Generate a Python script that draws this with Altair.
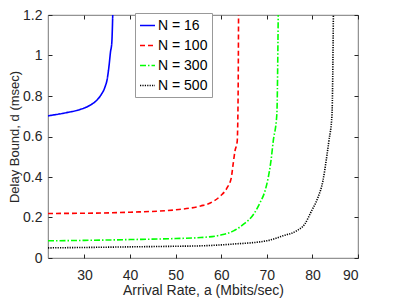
import altair as alt
import pandas as pd

# N = 16
a16 = [22, 26.1, 29.0, 31.2, 32.7, 33.7, 34.5, 35.0, 35.4, 35.7, 36.0, 36.2]
d16 = [0.702, 0.718, 0.733, 0.754, 0.779, 0.808, 0.844, 0.885, 0.951, 1.016, 1.065, 1.2]
# N = 100
a100 = [22, 30, 40, 50, 55.5, 57.7, 59.8, 61.3, 62.2, 62.6, 63.0, 63.5, 63.7, 63.8]
d100 = [0.22, 0.221, 0.226, 0.238, 0.257, 0.273, 0.306, 0.347, 0.396, 0.462, 0.527, 0.576, 0.8, 1.2]
# N = 300
a300 = [22, 30, 40, 50, 55.5, 59.8, 62.7, 64.9, 67.1, 68.5, 69.6, 70.3, 70.9, 71.4, 72.2, 72.5]
d300 = [0.085, 0.087, 0.091, 0.096, 0.101, 0.113, 0.134, 0.167, 0.216, 0.273, 0.331, 0.396, 0.478, 0.576, 0.71, 1.2]
# N = 500
a500 = [22, 30, 40, 50, 55.5, 62.7, 70.0, 73.6, 76.5, 78.3, 79.8, 81.2, 82.3, 83.0, 83.6, 84.3, 84.6]
d500 = [0.05, 0.052, 0.055, 0.058, 0.060, 0.069, 0.085, 0.110, 0.134, 0.167, 0.232, 0.298, 0.380, 0.478, 0.576, 0.71, 1.2]

series = ["N = 16", "N = 100", "N = 300", "N = 500"]
colors = ["#0000ff", "#ff0000", "#00ff00", "#000000"]
dashes = [[1, 0], [5, 3], [6, 2, 1.5, 2], [1.2, 1.2]]
x_ticks = [30, 40, 50, 60, 70, 80, 90]
y_ticks = [0, 0.2, 0.4, 0.6, 0.8, 1.0, 1.2]

rows = []
for name, xs, ys in zip(series, [a16, a100, a300, a500], [d16, d100, d300, d500]):
    for x, y in zip(xs, ys):
        rows.append({"a": x, "d": y, "N": name})
df = pd.DataFrame(rows)

FONT = "Liberation Sans"
TXT = "#262626"

xscale = alt.Scale(domain=[22, 90], nice=False, zero=False)
yscale = alt.Scale(domain=[0, 1.2], nice=False)

lines = alt.Chart(df).mark_line(strokeWidth=1.6, clip=True, interpolate="monotone").encode(
    x=alt.X("a:Q", scale=xscale,
            axis=alt.Axis(values=x_ticks, orient="bottom", offset=-4, tickSize=4,
                          domain=False, grid=False, labelPadding=10,
                          title="Arrival Rate, a (Mbits/sec)", titlePadding=1)),
    y=alt.Y("d:Q", scale=yscale,
            axis=alt.Axis(values=y_ticks, orient="left", offset=-4, tickSize=4,
                          domain=False, grid=False, labelPadding=6, format="~g",
                          title="Delay Bound, d (msec)", titlePadding=1,
                          titleFontSize=13)),
    color=alt.Color("N:N", sort=series,
                    scale=alt.Scale(domain=series, range=colors),
                    legend=alt.Legend(title=None, orient="none", legendX=87, legendY=-2,
                                      symbolType="stroke", symbolSize=225,
                                      symbolStrokeWidth=1.6, labelFontSize=14,
                                      labelFont=FONT, labelColor="#000",
                                      padding=4, rowPadding=4, labelOffset=2,
                                      strokeColor="#999", fillColor="white")),
    strokeDash=alt.StrokeDash("N:N", sort=series,
                              scale=alt.Scale(domain=series, range=dashes),
                              legend=alt.Legend(title=None)),
)

frame = alt.Chart(df).mark_line(opacity=0).encode(
    x=alt.X("a:Q", scale=xscale,
            axis=alt.Axis(values=x_ticks, orient="top", offset=-4, tickSize=4,
                          domain=False, grid=False, labels=False, title=None)),
    y=alt.Y("d:Q", scale=yscale,
            axis=alt.Axis(values=y_ticks, orient="right", offset=-4, tickSize=4,
                          domain=False, grid=False, labels=False, title=None)),
)

chart = alt.layer(lines, frame).resolve_axis(x="independent", y="independent").properties(
    width=310, height=243,
    autosize=alt.AutoSizeParams(type="none"),
    padding={"left": 40, "top": 7, "right": 30, "bottom": 40},
).configure_axis(
    labelFont=FONT, titleFont=FONT, labelFontSize=14, titleFontSize=14,
    labelColor=TXT, titleColor=TXT, tickColor=TXT, titleFontWeight="normal",
).configure_view(stroke="#555", strokeWidth=0.8)

chart.save("out.html", embed_options={"renderer": "svg", "actions": False})
